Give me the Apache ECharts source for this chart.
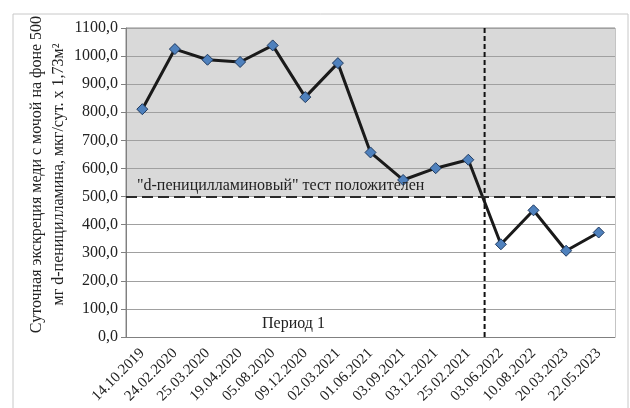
<!DOCTYPE html>
<html>
<head>
<meta charset="utf-8">
<script src="https://cdn.jsdelivr.net/npm/echarts@6/dist/echarts.min.js"></script>
<style>
  html, body { margin: 0; padding: 0; background: #fff; }
  #main { width: 630px; height: 408px; }
</style>
</head>
<body>
<div id="main"></div>
<script>
const dates = [
  "14.10.2019", "24.02.2020", "25.03.2020", "19.04.2020", "05.08.2020",
  "09.12.2020", "02.03.2021", "01.06.2021", "03.09.2021", "03.12.2021",
  "25.02.2021", "03.06.2022", "10.08.2022", "20.03.2023", "22.05.2023"
];
const copperValues = [811, 1025, 987, 979, 1038, 854, 975, 657, 559, 601, 631, 330, 451, 307, 372];
const thresholdValue = 500;
const periodBoundary = 11; // between 25.02.2021 and 03.06.2022
const boundaryLine = [[periodBoundary, 0], [periodBoundary, 1100]];

const serif = "Liberation Serif";

// gray zone above the threshold, white below
const bandColors = [];
for (let v = 0; v < 1100; v += 100) {
  bandColors.push(v >= thresholdValue ? "#d9d9d9" : "#ffffff");
}

const chart = echarts.init(document.getElementById("main"));
chart.setOption({
  animation: false,
  grid: {
    left: 126, right: 15, top: 28, bottom: 71,
    show: true, borderColor: "#8a8a8a", borderWidth: 1
  },
  graphic: [
    {
      type: "rect",
      z: 100,
      shape: { x: 13, y: 14, width: 615, height: 400 },
      style: { fill: null, stroke: "#c8c8c8", lineWidth: 1 },
      silent: true
    },
    {
      type: "text",
      z: 100,
      left: 262, top: 316,
      style: { text: "Период 1", fontFamily: serif, fontSize: 16, fill: "#222" },
      silent: true
    }
  ],
  xAxis: [
    {
      type: "category",
      data: dates,
      boundaryGap: true,
      axisLine: { lineStyle: { color: "#808080" } },
      axisTick: { interval: 0, length: 5, lineStyle: { color: "#808080" } },
      axisLabel: {
        interval: 0, rotate: 45, margin: 14,
        fontFamily: serif, fontSize: 15, color: "#222"
      }
    },
    { type: "value", min: 0, max: dates.length, show: false }
  ],
  yAxis: {
    type: "value",
    min: 0, max: 1100, interval: 100,
    name: "Суточная экскреция меди с мочой на фоне 500\nмг d-пеницилламина, мкг/сут. х 1,73м²",
    nameLocation: "middle",
    nameRotate: 90,
    nameGap: 56,
    nameMoveOverlap: false,
    nameTextStyle: {
      fontFamily: serif, fontSize: 16, color: "#222", lineHeight: 22,
      padding: [0, 0, 0, 16]
    },
    axisLine: { show: true, lineStyle: { color: "#808080" } },
    axisTick: { show: true, length: 5, lineStyle: { color: "#808080" } },
    axisLabel: {
      margin: 8, fontFamily: serif, fontSize: 16, color: "#222",
      formatter: (v) => v.toFixed(1).replace(".", ",")
    },
    splitLine: { lineStyle: { color: "#a0a0a0", width: 1 } },
    splitArea: { show: true, areaStyle: { color: bandColors } }
  },
  series: [
    {
      type: "line",
      xAxisIndex: 1,
      data: boundaryLine,
      symbol: "none",
      silent: true,
      lineStyle: { color: "#111", width: 2, type: [5, 3] },
      z: 2
    },
    {
      type: "line",
      data: copperValues,
      symbol: "diamond",
      symbolSize: 11,
      lineStyle: { color: "#1a1a1a", width: 3 },
      itemStyle: { color: "#4f81bd", borderColor: "#1f3a60", borderWidth: 1 },
      z: 3,
      markLine: {
        silent: true,
        symbol: "none",
        lineStyle: { color: "#2a2a2a", width: 2, type: [11, 5] },
        label: {
          position: "insideStartTop",
          distance: [11, 3],
          formatter: "\"d-пеницилламиновый\" тест положителен",
          fontFamily: serif, fontSize: 16, color: "#222"
        },
        data: [{ yAxis: thresholdValue }]
      }
    }
  ]
});
</script>
</body>
</html>
